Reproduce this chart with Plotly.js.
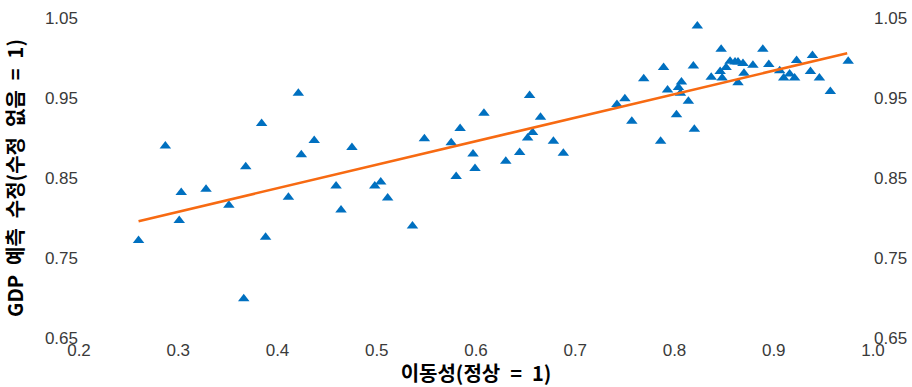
<!DOCTYPE html>
<html>
<head>
<meta charset="utf-8">
<script src="https://cdn.plot.ly/plotly-3.0.1.min.js"></script>
<style>html,body{margin:0;padding:0;background:#fff}</style>
</head>
<body>
<div id="chart" style="width:912px;height:387px"></div>
<script>
// Mobility (normal = 1) for each observation
const mobility = [
  0.260, 0.287, 0.301, 0.303, 0.328, 0.351, 0.366, 0.368, 0.384, 0.388,
  0.411, 0.421, 0.424, 0.437, 0.459, 0.464, 0.475, 0.498, 0.504, 0.511,
  0.536, 0.548, 0.575, 0.580, 0.584, 0.597, 0.599, 0.608, 0.630, 0.644,
  0.652, 0.657, 0.654, 0.665, 0.678, 0.688, 0.742, 0.750, 0.757, 0.769,
  0.786, 0.789, 0.793, 0.802, 0.804, 0.807, 0.806, 0.814, 0.819, 0.820,
  0.823, 0.837, 0.847, 0.846, 0.848, 0.852, 0.856, 0.861, 0.864, 0.869,
  0.870, 0.864, 0.879, 0.889, 0.895, 0.906, 0.910, 0.916, 0.921, 0.923,
  0.937, 0.939, 0.946, 0.957, 0.975
];
// GDP forecast revision (no revision = 1)
const gdpRevision = [
  0.772, 0.890, 0.797, 0.832, 0.836, 0.816, 0.699, 0.864, 0.918, 0.776,
  0.826, 0.956, 0.879, 0.897, 0.840, 0.810, 0.888, 0.840, 0.845, 0.825,
  0.790, 0.899, 0.894, 0.852, 0.912, 0.880, 0.862, 0.931, 0.871, 0.882,
  0.900, 0.907, 0.953, 0.926, 0.896, 0.881, 0.942, 0.949, 0.921, 0.974,
  0.896, 0.988, 0.960, 0.929, 0.963, 0.970, 0.956, 0.946, 0.990, 0.911,
  1.040, 0.976, 1.011, 0.983, 0.975, 0.988, 0.996, 0.995, 0.995, 0.993,
  0.981, 0.969, 0.991, 1.011, 0.992, 0.984, 0.975, 0.980, 0.975, 0.997,
  0.983, 1.003, 0.975, 0.958, 0.996
];
// Fitted trend line end points
const trendMobility = [0.260, 0.974];
const trendRevision = [0.796, 1.006];

const xTickVals = [0.2, 0.3, 0.4, 0.5, 0.6, 0.7, 0.8, 0.9, 1.0];
const xTickText = ['0.2', '0.3', '0.4', '0.5', '0.6', '0.7', '0.8', '0.9', '1.0'];
const yTickVals = [0.65, 0.75, 0.85, 0.95, 1.05];
const yTickText = ['0.65', '0.75', '0.85', '0.95', '1.05'];
const xTitle = '이동성(정상\u2002=\u20021)';
const yTitle = 'GDP\u2002예측\u2002수정(수정\u2002없음\u2002=\u20021)';

const tickFont = {family: 'Liberation Sans, Arial, sans-serif', size: 17, color: '#3a3a3a'};
const titleFont = {family: 'Noto Sans CJK KR, Liberation Sans, sans-serif', size: 20, color: '#000000', weight: 'bold'};

const traces = [
  {
    type: 'scatter', mode: 'markers',
    x: mobility, y: gdpRevision,
    marker: {symbol: 'triangle-up', size: 10, color: '#0070C0', line: {width: 0}},
    xaxis: 'x', yaxis: 'y'
  },
  {
    type: 'scatter', mode: 'lines',
    x: trendMobility, y: trendRevision,
    line: {color: '#F76A12', width: 2.5},
    xaxis: 'x', yaxis: 'y2'
  }
];

const yCommon = {
  range: [0.65, 1.05],
  tickmode: 'array', tickvals: yTickVals, ticktext: yTickText,
  showgrid: false, zeroline: false, showline: false, ticks: '',
  tickfont: tickFont, fixedrange: true
};

const layout = {
  width: 912, height: 387,
  margin: {l: 79, r: 39, t: 18, b: 49, pad: 0},
  paper_bgcolor: '#ffffff', plot_bgcolor: '#ffffff',
  showlegend: false, hovermode: false,
  xaxis: {
    range: [0.2, 1.0],
    tickmode: 'array', tickvals: xTickVals, ticktext: xTickText,
    showgrid: false, zeroline: false, showline: false, ticks: '',
    tickfont: tickFont, automargin: false,
    title: {text: xTitle, font: titleFont, standoff: 5}
  },
  yaxis: Object.assign({}, yCommon, {
    side: 'left', automargin: false,
    title: {text: yTitle, font: titleFont, standoff: 16}
  }),
  yaxis2: Object.assign({}, yCommon, {
    side: 'right', overlaying: 'y', automargin: false
  })
};

Plotly.newPlot('chart', traces, layout, {staticPlot: true, displayModeBar: false});
</script>
</body>
</html>
